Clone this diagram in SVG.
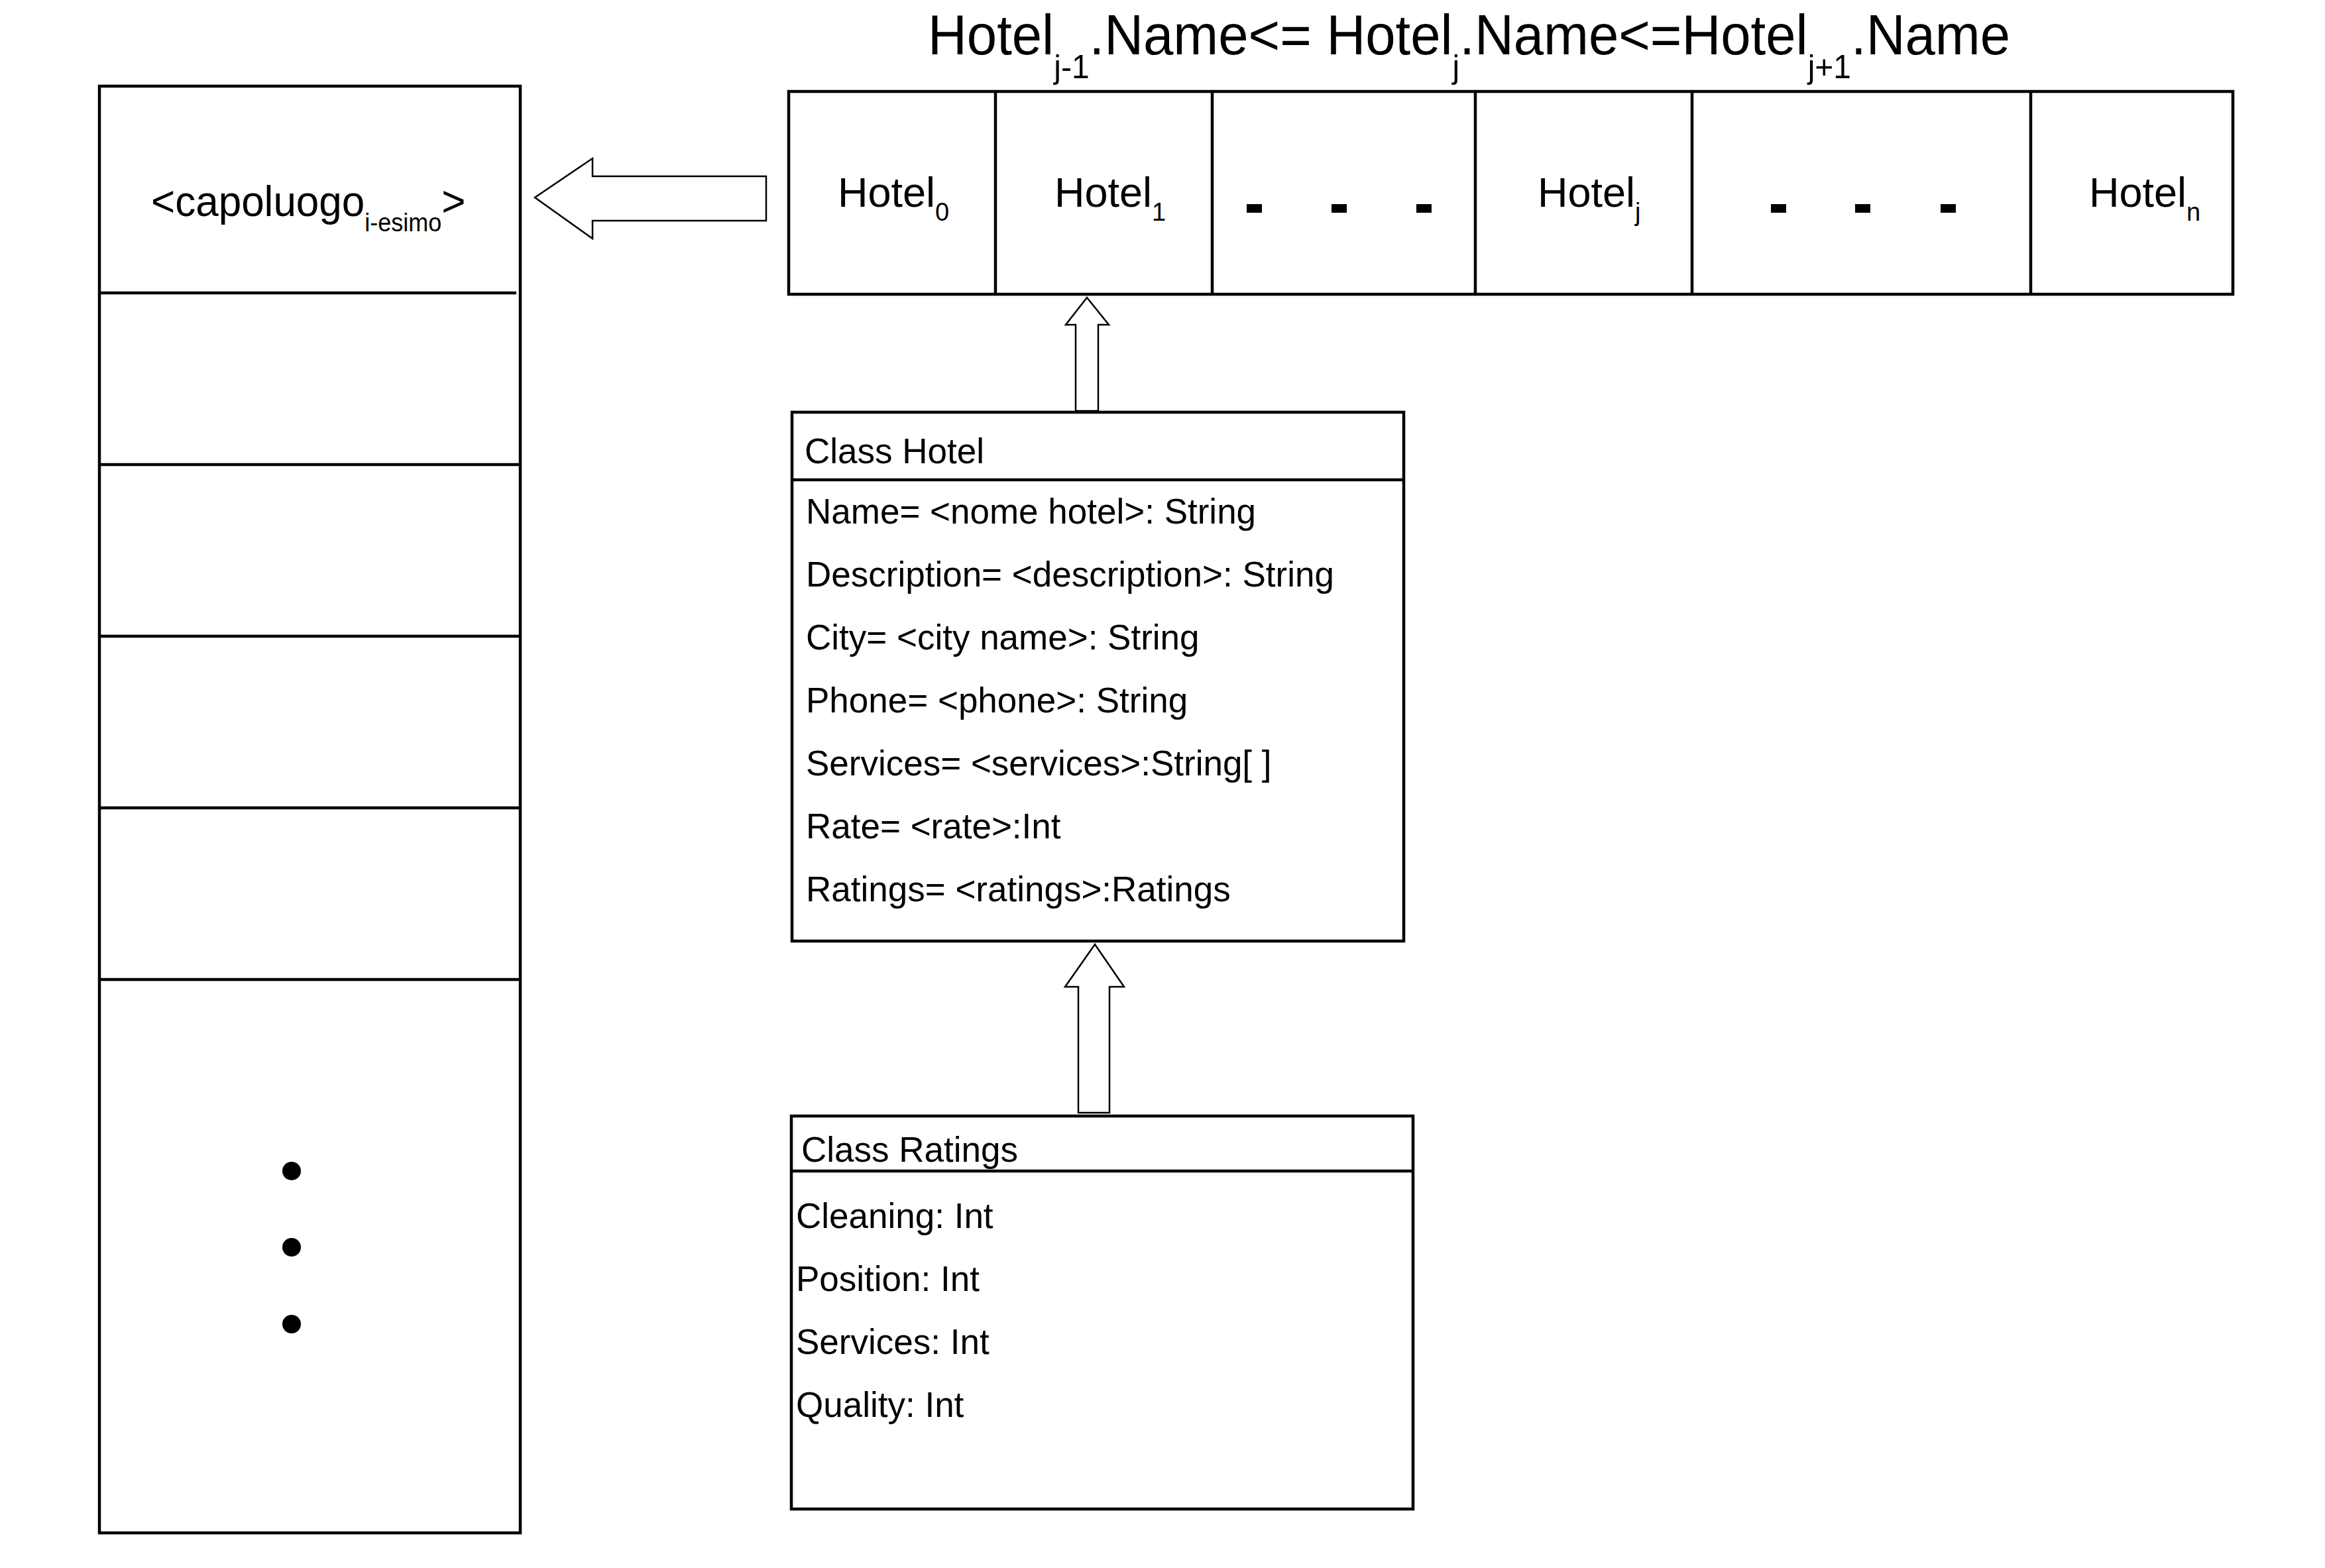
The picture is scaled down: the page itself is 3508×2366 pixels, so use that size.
<svg xmlns="http://www.w3.org/2000/svg" width="3508" height="2366" viewBox="0 0 3508 2366">
<style>
.bg{fill:#ffffff}
.box{fill:none;stroke:#000;stroke-width:4.5}
.ln{stroke:#000;stroke-width:4.5;fill:none}
.arr{fill:#ffffff;stroke:#000;stroke-width:2.5;stroke-linejoin:miter}
.dot{fill:#000}
text{font-family:"Liberation Sans",Arial,Helvetica,sans-serif;fill:#000}
.t53{font-size:53px}
.t63{font-size:63px}
.t62{font-size:62px}
.title{font-size:81.5px}
</style>
<rect class="bg" x="0" y="0" width="3508" height="2366"/>

<g id="capoluoghi">
  <rect class="box" x="150" y="130" width="635" height="2183"/>
  <line class="ln" x1="150" y1="442" x2="779" y2="442"/>
  <line class="ln" x1="150" y1="701" x2="785" y2="701"/>
  <line class="ln" x1="150" y1="960" x2="785" y2="960"/>
  <line class="ln" x1="150" y1="1219" x2="785" y2="1219"/>
  <line class="ln" x1="150" y1="1478" x2="785" y2="1478"/>
  <text class="t62" transform="translate(228,326) scale(1,1.06)" x="0" y="0">&lt;capoluogo<tspan dy="22" font-size="36">i-esimo</tspan><tspan dy="-22">&gt;</tspan></text>
  <circle class="dot" cx="440" cy="1767" r="14"/>
  <circle class="dot" cx="440" cy="1882" r="14"/>
  <circle class="dot" cx="440" cy="1998" r="14"/>
</g>

<g id="title">
  <text class="title" transform="translate(1400,82) scale(1,1.05)" x="0" y="0">Hotel<tspan dy="34" font-size="48">j-1</tspan><tspan dy="-34">.Name&lt;= Hotel</tspan><tspan dy="34" font-size="48">j</tspan><tspan dy="-34">.Name&lt;=Hotel</tspan><tspan dy="34" font-size="48">j+1</tspan><tspan dy="-34">.Name</tspan></text>
</g>

<g id="hotel-array">
  <rect class="box" x="1190" y="138" width="2179" height="306"/>
  <line class="ln" x1="1502" y1="138" x2="1502" y2="444"/>
  <line class="ln" x1="1829" y1="138" x2="1829" y2="444"/>
  <line class="ln" x1="2226" y1="138" x2="2226" y2="444"/>
  <line class="ln" x1="2553" y1="138" x2="2553" y2="444"/>
  <line class="ln" x1="3064" y1="138" x2="3064" y2="446"/>
  <text class="t63" x="1264" y="312">Hotel<tspan dy="21" font-size="38">0</tspan></text>
  <text class="t63" x="1591" y="312">Hotel<tspan dy="21" font-size="38">1</tspan></text>
  <text class="t63" x="2320" y="312">Hotel<tspan dy="21" font-size="38">j</tspan></text>
  <text class="t63" x="3152" y="312">Hotel<tspan dy="21" font-size="38">n</tspan></text>
  <rect class="dot" x="1881" y="308" width="23" height="13"/>
  <rect class="dot" x="2009" y="308" width="23" height="13"/>
  <rect class="dot" x="2137" y="308" width="23" height="13"/>
  <rect class="dot" x="2672" y="308" width="23" height="13"/>
  <rect class="dot" x="2799" y="308" width="23" height="13"/>
  <rect class="dot" x="2928" y="308" width="23" height="13"/>
</g>

<g id="class-hotel">
  <rect class="box" x="1195" y="622" width="923" height="798"/>
  <line class="ln" x1="1195" y1="724" x2="2118" y2="724"/>
  <text class="t53" x="1214" y="699">Class Hotel</text>
  <text class="t53" x="1216" y="790">Name= &lt;nome hotel&gt;: String</text>
  <text class="t53" x="1216" y="885">Description= &lt;description&gt;: String</text>
  <text class="t53" x="1216" y="980">City= &lt;city name&gt;: String</text>
  <text class="t53" x="1216" y="1075">Phone= &lt;phone&gt;: String</text>
  <text class="t53" x="1216" y="1170">Services= &lt;services&gt;:String[ ]</text>
  <text class="t53" x="1216" y="1265">Rate= &lt;rate&gt;:Int</text>
  <text class="t53" x="1216" y="1360">Ratings= &lt;ratings&gt;:Ratings</text>
</g>

<g id="class-ratings">
  <rect class="box" x="1194" y="1684" width="938" height="593"/>
  <line class="ln" x1="1194" y1="1767" x2="2132" y2="1767"/>
  <text class="t53" x="1209" y="1753">Class Ratings</text>
  <text class="t53" x="1201" y="1853">Cleaning: Int</text>
  <text class="t53" x="1201" y="1948">Position: Int</text>
  <text class="t53" x="1201" y="2043">Services: Int</text>
  <text class="t53" x="1201" y="2138">Quality: Int</text>
</g>

<g id="connectors">
  <polygon class="arr" points="807,298 894,239 894,266 1156,266 1156,333 894,333 894,360"/>
  <polygon class="arr" points="1640,449 1673,490 1657,490 1657,620 1623,620 1623,490 1608,490"/>
  <polygon class="arr" points="1652,1425 1696,1489 1674,1489 1674,1679 1627,1679 1627,1489 1607,1489"/>
</g>
</svg>
